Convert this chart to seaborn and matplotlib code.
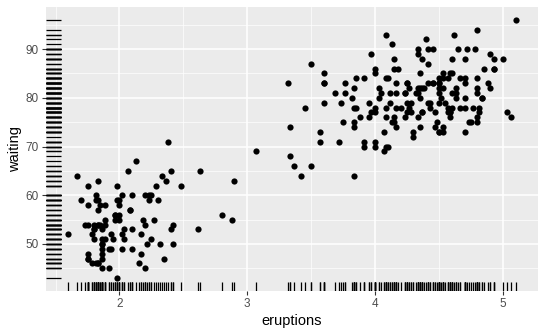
import matplotlib
matplotlib.use("Agg")
import matplotlib.pyplot as plt
import seaborn as sns
import pandas as pd
from matplotlib.ticker import MultipleLocator

eruptions = [3.600,1.800,3.333,2.283,4.533,2.883,4.700,3.600,1.950,4.350,1.833,3.917,4.200,1.750,4.700,2.167,1.750,4.800,1.600,4.250,
1.800,1.750,3.450,3.067,4.533,3.600,1.967,4.083,3.850,4.433,4.300,4.467,3.367,4.033,3.833,2.017,1.867,4.833,1.833,4.783,
4.350,1.883,4.567,1.750,4.533,3.317,3.833,2.100,4.633,2.000,4.800,4.716,1.833,4.833,1.733,4.883,3.717,1.667,4.567,4.317,
2.233,4.500,1.750,4.800,1.817,4.400,4.167,4.700,2.067,4.700,4.033,1.967,4.500,4.000,1.983,5.067,2.017,4.567,3.883,3.600,
4.133,4.333,4.100,2.633,4.067,4.933,3.950,4.517,2.167,4.000,2.200,4.333,1.867,4.817,1.833,4.300,4.667,3.750,1.867,4.900,
2.483,4.367,2.100,4.500,4.050,1.867,4.700,1.783,4.850,3.683,4.733,2.300,4.900,4.417,1.700,4.633,2.317,4.600,1.817,4.417,
2.617,4.067,4.250,1.967,4.600,3.767,1.917,4.500,2.267,4.650,1.867,4.167,2.800,4.333,1.833,4.383,1.883,4.933,2.033,3.733,
4.233,2.233,4.533,4.817,4.333,1.983,4.633,2.017,5.100,1.800,5.033,4.000,2.400,4.600,3.567,4.000,4.500,4.083,1.800,3.967,
2.200,4.150,2.000,3.833,3.500,4.583,2.367,5.000,1.933,4.617,1.917,2.083,4.583,3.333,4.167,4.333,4.500,2.417,4.000,4.167,
1.883,4.583,4.250,3.767,2.033,4.433,4.083,1.833,4.417,2.183,4.800,1.833,4.800,4.100,3.966,4.233,3.500,4.366,2.250,4.667,
2.100,4.350,4.133,1.867,4.600,1.783,4.367,3.850,1.933,4.500,2.383,4.700,1.867,3.833,3.417,4.233,2.400,4.800,2.000,4.150,
1.867,4.267,1.750,4.483,4.000,4.117,4.083,4.267,3.917,4.550,4.083,2.417,4.183,2.217,4.450,1.883,1.850,4.283,3.950,2.333,
4.150,2.350,4.933,2.900,4.583,3.833,2.083,4.367,2.133,4.350,2.200,4.450,3.567,4.500,4.150,3.817,3.917,4.450,2.000,4.283,
4.767,4.533,1.850,4.250,1.983,2.250,4.750,4.117,2.150,4.417,1.817,4.467]

waiting = [79,54,74,62,85,55,88,85,51,85,54,84,78,47,83,52,62,84,52,79,
51,47,78,69,74,83,55,76,78,79,73,77,66,80,74,52,48,80,59,90,
80,58,84,58,73,83,64,53,82,59,75,90,54,80,54,83,71,64,77,81,
59,84,48,82,60,92,78,78,65,73,82,56,79,71,62,76,60,78,76,83,
75,82,70,65,73,88,76,80,48,86,60,90,50,78,63,72,84,75,51,82,
62,88,49,83,81,47,84,52,86,81,75,59,89,79,59,81,50,85,59,87,
53,69,77,56,88,81,45,82,55,90,45,83,56,89,46,82,51,86,53,79,
81,60,82,77,76,59,80,49,96,53,77,77,65,81,71,70,81,93,53,89,
45,86,58,78,66,76,63,88,52,93,49,57,77,68,81,81,73,50,85,74,
55,77,83,83,51,78,84,46,83,55,81,57,76,84,77,81,87,77,51,78,
60,82,91,53,78,46,77,84,49,83,71,80,49,75,64,76,53,94,55,76,
50,82,54,75,78,79,78,78,70,79,70,54,86,50,90,54,54,77,79,64,
75,47,86,63,85,82,57,82,67,74,54,83,73,73,88,80,71,83,56,79,
78,84,58,83,43,60,75,81,46,90,46,74]

x_ticks = [2, 3, 4, 5]
y_ticks = [50, 60, 70, 80, 90]

df = pd.DataFrame({"eruptions": eruptions, "waiting": waiting})

plt.rcParams["font.family"] = ["Liberation Sans", "DejaVu Sans"]
fig = plt.figure(figsize=(5.47, 3.36), dpi=100)
ax = fig.add_axes([46/547, 1 - 291/336, (538-46)/547, (291-7)/336])
ax.set_facecolor("#EBEBEB")

sns.scatterplot(data=df, x="eruptions", y="waiting", ax=ax, color="black", s=20, linewidth=0, zorder=3)
sns.rugplot(data=df, x="eruptions", ax=ax, height=0.03, color="black", linewidth=0.9, zorder=3)
sns.rugplot(data=df, y="waiting", ax=ax, height=0.03, color="black", linewidth=0.9, zorder=3)

xr = max(eruptions) - min(eruptions)
yr = max(waiting) - min(waiting)
ax.set_xlim(min(eruptions) - 0.05 * xr, max(eruptions) + 0.05 * xr)
ax.set_ylim(min(waiting) - 0.05 * yr, max(waiting) + 0.05 * yr)

ax.set_xticks(x_ticks)
ax.set_yticks(y_ticks)
ax.xaxis.set_minor_locator(MultipleLocator(0.5))
ax.yaxis.set_minor_locator(MultipleLocator(5))
ax.grid(which="major", color="white", linewidth=1.1, zorder=0)
ax.grid(which="minor", color="white", linewidth=0.5, zorder=0)
ax.set_axisbelow(True)
for s in ax.spines.values():
    s.set_visible(False)
ax.tick_params(which="major", length=3, width=0.8, color="#333333", labelcolor="#4D4D4D", labelsize=8.5, pad=2)
ax.tick_params(which="minor", length=0)
ax.set_xlabel("eruptions", fontsize=10.5, color="black", labelpad=3)
ax.set_ylabel("waiting", fontsize=10.5, color="black", labelpad=3)

fig.savefig("out.png", dpi=100, facecolor="white")
